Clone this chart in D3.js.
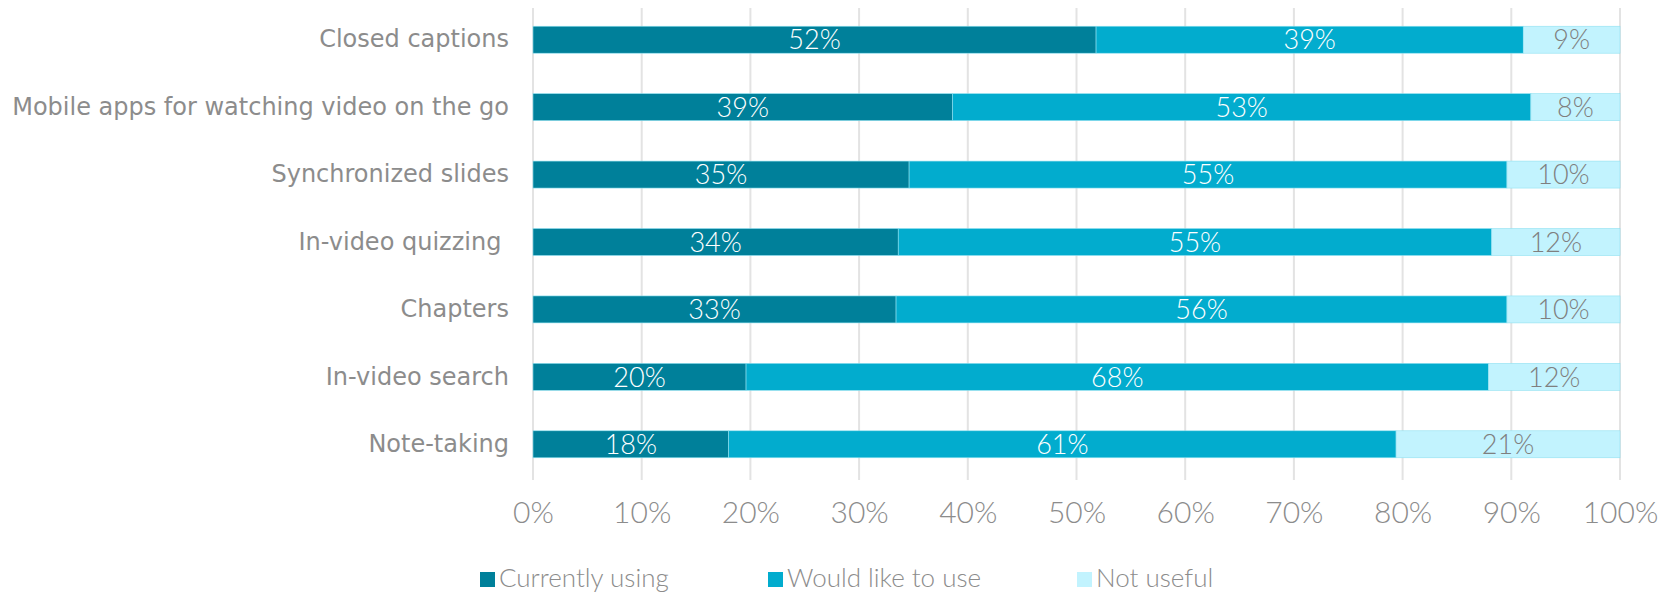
<!DOCTYPE html>
<html>
<head>
<meta charset="utf-8">
<script src="https://cdn.jsdelivr.net/npm/d3@7"></script>
<style>
  body { margin: 0; background: #fff; }
  svg text { white-space: pre; }
</style>
</head>
<body>
<div id="chart"></div>
<script>
const categories = ["Closed captions", "Mobile apps for watching video on the go", "Synchronized slides",
  "In-video quizzing ", "Chapters", "In-video search", "Note-taking"];
const currentlyUsing = [51.8, 38.6, 34.6, 33.6, 33.4, 19.6, 18.0];
const wouldLikeToUse = [39.3, 53.2, 55.0, 54.6, 56.2, 68.3, 61.4];
const notUseful = [8.9, 8.2, 10.4, 11.8, 10.4, 12.1, 20.6];
const seriesNames = ["Currently using", "Would like to use", "Not useful"];
const xTicks = [0, 10, 20, 30, 40, 50, 60, 70, 80, 90, 100];

const colors = ["#00809a", "#02acce", "#c2f3fe"];
const labelColors = ["#ffffff", "#ffffff", "#7f7f7f"];
const grey = "#8c8c8c";

const W = 1672, H = 595;
const margin = { top: 6, right: 52, bottom: 117, left: 533 };
const width = W - margin.left - margin.right,
  height = H - margin.top - margin.bottom;

const svg = d3.select("#chart").append("svg")
  .attr("width", W).attr("height", H);
const g = svg.append("g")
  .attr("transform", `translate(${margin.left},${margin.top})`);

const rows = categories.map((c, i) => ({
  name: c,
  "Currently using": currentlyUsing[i],
  "Would like to use": wouldLikeToUse[i],
  "Not useful": notUseful[i]
}));
const stacked = d3.stack().keys(seriesNames)(rows);

const x = d3.scaleLinear().domain([0, 100]).range([0, width]);
const y = d3.scaleBand().domain(categories).range([0, height]).paddingInner(0.6).paddingOuter(0.3);

// gridlines
g.selectAll(".grid").data(xTicks).enter().append("line")
  .attr("x1", d => x(d)).attr("x2", d => x(d))
  .attr("y1", 2).attr("y2", height + 2)
  .attr("stroke", "#e3e3e3").attr("stroke-width", 2);

// bars
const layer = g.selectAll(".layer").data(stacked).enter().append("g")
  .attr("fill", (d, i) => colors[i]);
layer.selectAll("rect").data(d => d).enter().append("rect")
  .attr("x", d => x(d[0]))
  .attr("y", d => y(d.data.name))
  .attr("width", d => x(d[1]) - x(d[0]))
  .attr("height", y.bandwidth())
  .attr("stroke", "#8fe0f0").attr("stroke-width", 0.6);

// bar labels
stacked.forEach((s, si) => {
  g.selectAll(".lbl" + si).data(s).enter().append("text")
    .attr("x", d => (x(d[0]) + x(d[1])) / 2)
    .attr("y", d => y(d.data.name) + y.bandwidth() / 2)
    .attr("dy", "0.36em")
    .attr("text-anchor", "middle")
    .attr("font-family", "Lato, sans-serif")
    .attr("font-weight", 300)
    .attr("font-size", 27)
    .attr("fill", labelColors[si])
    .text(d => Math.round(d[1] - d[0]) + "%");
});

// category labels
const yAxis = d3.axisLeft(y).tickSize(0).tickPadding(24);
g.append("g").call(yAxis)
  .call(a => a.select(".domain").remove())
  .selectAll("text")
  .attr("font-family", "'DejaVu Sans', sans-serif")
  .attr("font-size", 24)
  .attr("fill", grey);

// x axis
const xAxis = d3.axisBottom(x).tickValues(xTicks).tickFormat(d => d + "%").tickSize(0).tickPadding(24);
g.append("g").attr("transform", `translate(0,${height})`).call(xAxis)
  .call(a => a.select(".domain").remove())
  .selectAll("text")
  .attr("font-family", "Lato, sans-serif")
  .attr("font-weight", 300)
  .attr("font-size", 30)
  .attr("fill", grey);

// legend
const legendX = [480, 768, 1077];
const legend = svg.append("g").attr("transform", `translate(0, 578)`);
seriesNames.forEach((n, i) => {
  legend.append("rect")
    .attr("x", legendX[i]).attr("y", -6)
    .attr("width", 15).attr("height", 15)
    .attr("fill", colors[i]);
  legend.append("text")
    .attr("x", legendX[i] + 19).attr("y", 0)
    .attr("dy", "0.36em")
    .attr("font-family", "Lato, sans-serif")
    .attr("font-weight", 300)
    .attr("font-size", 26)
    .attr("fill", grey)
    .text(n);
});
</script>
</body>
</html>
